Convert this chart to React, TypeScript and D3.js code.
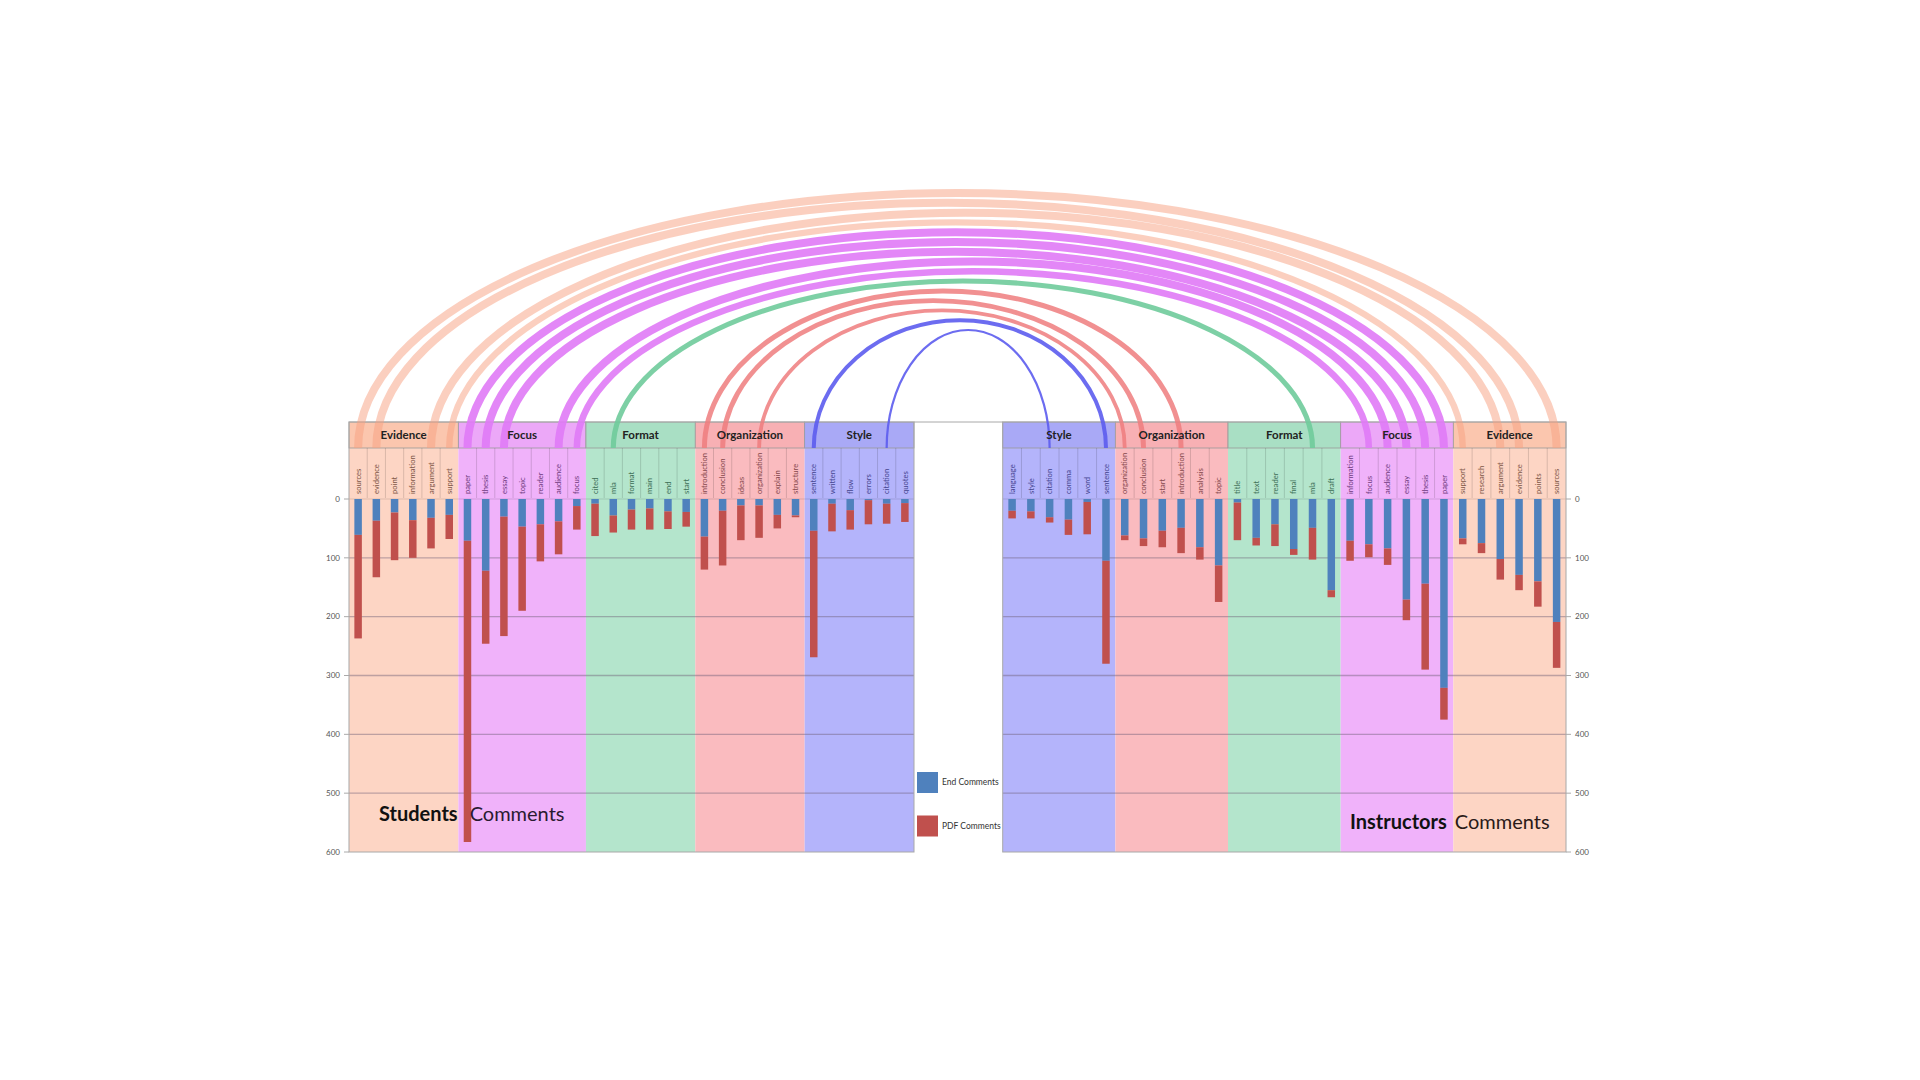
import * as d3 from 'd3';

// Student side (left panel)
const studentGroupOrder = ['Evidence', 'Focus', 'Format', 'Organization', 'Style'];
const studentGroupSizes = [6, 7, 6, 6, 6];
const studentTerms = [
  'sources', 'evidence', 'point', 'information', 'argument', 'support',
  'paper', 'thesis', 'essay', 'topic', 'reader', 'audience', 'focus',
  'cited', 'mla', 'format', 'main', 'end', 'start',
  'introduction', 'conclusion', 'ideas', 'organization', 'explain', 'structure',
  'sentence', 'written', 'flow', 'errors', 'citation', 'quotes',
];
const studentEnd = [61, 37, 23, 36, 32, 27, 71, 122, 30, 47, 43, 38, 12, 8, 28, 18, 16, 21, 22, 64, 20, 11, 11, 27, 28, 54, 8, 19, 2, 8, 7];
const studentPdf = [176, 96, 81, 64, 52, 41, 512, 124, 203, 143, 63, 56, 40, 55, 29, 34, 36, 30, 25, 56, 93, 59, 55, 23, 3, 215, 47, 33, 41, 34, 32];

// Instructor side (right panel)
const instructorGroupOrder = ['Style', 'Organization', 'Format', 'Focus', 'Evidence'];
const instructorGroupSizes = [6, 6, 6, 6, 6];
const instructorTerms = [
  'language', 'style', 'citation', 'comma', 'word', 'sentence',
  'organization', 'conclusion', 'start', 'introduction', 'analysis', 'topic',
  'title', 'text', 'reader', 'final', 'mla', 'draft',
  'information', 'focus', 'audience', 'essay', 'thesis', 'paper',
  'support', 'research', 'argument', 'evidence', 'points', 'sources',
];
const instructorEnd = [20, 21, 31, 35, 5, 105, 62, 67, 54, 49, 82, 113, 6, 66, 43, 85, 49, 155, 71, 77, 84, 171, 144, 321, 67, 75, 102, 129, 140, 209];
const instructorPdf = [13, 12, 9, 26, 55, 175, 8, 13, 28, 43, 21, 62, 64, 13, 37, 10, 54, 12, 34, 22, 28, 35, 146, 54, 10, 17, 35, 26, 43, 78];

const yTicks = [0, 100, 200, 300, 400, 500, 600];
const legendItems = ['End Comments', 'PDF Comments'];

const catStyle: Record<string, { body: string; head: string; label: string; arc: string; arcOpacity: number; arcWidth: number }> = {
  Evidence: { body: '#FDD5C4', head: '#FBC6AE', label: '#7d5646', arc: '#F8A080', arcOpacity: 0.5, arcWidth: 8 },
  Focus: { body: '#F0B2FA', head: '#ECA8F8', label: '#6e3a7c', arc: '#E07AF6', arcOpacity: 0.9, arcWidth: 8 },
  Format: { body: '#B4E5CC', head: '#A9DFC4', label: '#3c6e55', arc: '#6FCB9B', arcOpacity: 0.9, arcWidth: 6 },
  Organization: { body: '#FABBBF', head: '#F8B0B4', label: '#85474b', arc: '#EF7C7E', arcOpacity: 0.85, arcWidth: 5 },
  Style: { body: '#B4B4FB', head: '#A9A9F6', label: '#45458f', arc: '#5C5CEE', arcOpacity: 0.9, arcWidth: 4 },
};

const BLUE = '#4F81BD';
const RED = '#C0504D';

const HEAD_TOP = 422;
const LABEL_TOP = 448;
const y = d3.scaleLinear().domain([0, 600]).range([499, 852]);

function expandGroups(order: string[], sizes: number[]) {
  return order.flatMap((g, i) => d3.range(sizes[i]).map(() => g));
}

const studentGroups = expandGroups(studentGroupOrder, studentGroupSizes);
const instructorGroups = expandGroups(instructorGroupOrder, instructorGroupSizes);

const xStudent = d3.scaleBand<number>().domain(d3.range(studentTerms.length)).range([349, 914]);
const xInstructor = d3.scaleBand<number>().domain(d3.range(instructorTerms.length)).range([1002.7, 1566]);

const BAR_W = 7.5;

function Panel({ terms, groups, order, end, pdf, x, axisSide }: {
  terms: string[]; groups: string[]; order: string[]; end: number[]; pdf: number[];
  x: d3.ScaleBand<number>; axisSide: 'left' | 'right';
}) {
  const [x0, x1] = x.range();
  const step = x.bandwidth();
  const groupSpans = order.map(g => {
    const idx = terms.map((_, i) => i).filter(i => groups[i] === g);
    return { g, a: x(idx[0])!, b: x(idx[idx.length - 1])! + step };
  });
  return (
    <g>
      {groupSpans.map(s => (
        <g key={s.g}>
          <rect x={s.a} y={HEAD_TOP} width={s.b - s.a} height={y(600) - HEAD_TOP} fill={catStyle[s.g].body} />
          <rect x={s.a} y={HEAD_TOP} width={s.b - s.a} height={LABEL_TOP - HEAD_TOP} fill={catStyle[s.g].head} stroke="#9a9a9a" strokeWidth={0.8} />
        </g>
      ))}
      {/* term cells */}
      {terms.map((t, i) => (
        <g key={t + i}>
          {i > 0 && groups[i] === groups[i - 1] && (
            <line x1={x(i)} x2={x(i)} y1={LABEL_TOP} y2={y(0) - 1} stroke="#000" strokeOpacity={0.18} strokeWidth={0.8} />
          )}
          <text transform={`translate(${x(i)! + step / 2},${y(0) - 5}) rotate(-90)`} dy="0.35em"
            fontSize={7.6} fill={catStyle[groups[i]].label} fontFamily="Lato, sans-serif">{t}</text>
        </g>
      ))}
      {/* grid */}
      {yTicks.map(v => (
        <g key={v}>
          {v > 0 && v < 600 && (
            <line x1={x0} x2={x1} y1={y(v)} y2={y(v)} stroke="#6f5f78" strokeOpacity={0.45} strokeWidth={1.3} />
          )}
          <line x1={axisSide === 'left' ? x0 - 5 : x1} x2={axisSide === 'left' ? x0 : x1 + 5} y1={y(v)} y2={y(v)} stroke="#aaa" strokeWidth={1} />
          <text x={axisSide === 'left' ? x0 - 9 : x1 + 9} y={y(v)} dy="0.35em" fontSize={8}
            textAnchor={axisSide === 'left' ? 'end' : 'start'} fill="#555">{v}</text>
        </g>
      ))}
      <line x1={x0} x2={x1} y1={y(0)} y2={y(0)} stroke="#000" strokeOpacity={0.15} strokeWidth={0.8} />
      {/* bars */}
      {terms.map((t, i) => {
        const bx = x(i)! + (step - BAR_W) / 2;
        return (
          <g key={'b' + i}>
            <rect x={bx} y={y(0)} width={BAR_W} height={y(end[i]) - y(0)} fill={BLUE} />
            <rect x={bx} y={y(end[i])} width={BAR_W} height={y(end[i] + pdf[i]) - y(end[i])} fill={RED} />
          </g>
        );
      })}
      <rect x={x0} y={HEAD_TOP} width={x1 - x0} height={y(600) - HEAD_TOP} fill="none" stroke="#a8a8a8" strokeWidth={1} />
    </g>
  );
}

// arcs link identical words found in the same category on both sides
const links = studentTerms
  .map((t, i) => {
    const j = instructorTerms.findIndex((u, k) => u === t && instructorGroups[k] === studentGroups[i]);
    return j < 0 ? null : { term: t, group: studentGroups[i], i, j };
  })
  .filter((d): d is { term: string; group: string; i: number; j: number } => d !== null)
  .map(d => {
    const xa = xStudent(d.i)! + xStudent.bandwidth() / 2;
    const xb = xInstructor(d.j)! + xInstructor.bandwidth() / 2;
    const total = studentEnd[d.i] + studentPdf[d.i] + instructorEnd[d.j] + instructorPdf[d.j];
    return { ...d, xa, xb, span: xb - xa, total };
  })
  .sort((a, b) => b.span - a.span);

const arcTop = d3.scaleLinear().domain([0, links.length - 1]).range([193, 330]);
const arcWidthMul = d3.scaleLinear().domain([80, 200]).range([0.55, 1]).clamp(true);

export default function App() {
  return (
    <svg width={1920} height={1080} style={{ position: 'absolute', left: 0, top: 0, background: '#fff' }}
      fontFamily="Lato, sans-serif">
      <Panel terms={studentTerms} groups={studentGroups} order={studentGroupOrder} end={studentEnd} pdf={studentPdf} x={xStudent} axisSide="left" />
      <Panel terms={instructorTerms} groups={instructorGroups} order={instructorGroupOrder} end={instructorEnd} pdf={instructorPdf} x={xInstructor} axisSide="right" />
      <line x1={914} x2={1002.7} y1={HEAD_TOP} y2={HEAD_TOP} stroke="#a8a8a8" strokeWidth={1} />

      {/* arcs */}
      {links.map((l, r) => {
        const rx = l.span / 2;
        const ry = LABEL_TOP - arcTop(r);
        const st = catStyle[l.group];
        return (
          <path key={l.term} d={`M${l.xa},${LABEL_TOP} A${rx},${ry} 0 0 1 ${l.xb},${LABEL_TOP}`}
            fill="none" stroke={st.arc} strokeOpacity={st.arcOpacity} strokeWidth={st.arcWidth * arcWidthMul(l.total)} />
        );
      })}

      {/* category titles */}
      {[{ order: studentGroupOrder, groups: studentGroups, x: xStudent }, { order: instructorGroupOrder, groups: instructorGroups, x: xInstructor }].map((p, k) =>
        p.order.map(g => {
          const idx = p.groups.map((gg, i) => (gg === g ? i : -1)).filter(i => i >= 0);
          const a = p.x(idx[0])!;
          const b = p.x(idx[idx.length - 1])! + p.x.bandwidth();
          return (
            <text key={k + g} x={(a + b) / 2} y={(HEAD_TOP + LABEL_TOP) / 2} dy="0.35em" textAnchor="middle"
              fontSize={11.5} fontWeight="bold" fill="#222">{g}</text>
          );
        })
      )}

      {/* legend */}
      {legendItems.map((t, i) => (
        <g key={t} transform={`translate(917,${772 + i * 43.5})`}>
          <rect width={21} height={21} fill={i === 0 ? BLUE : RED} />
          <text x={25} y={10.5} dy="0.35em" fontSize={8.5} fill="#333">{t}</text>
        </g>
      ))}

      {/* side captions */}
      <text x={379} y={821} fontSize={20} fill="#111">
        <tspan fontWeight="bold">Students</tspan>
        <tspan dx={12} fill="#2a1a30">Comments</tspan>
      </text>
      <text x={1350} y={829} fontSize={20} fill="#111">
        <tspan fontWeight="bold">Instructors</tspan>
        <tspan dx={8} fill="#2a1a18">Comments</tspan>
      </text>
    </svg>
  );
}
